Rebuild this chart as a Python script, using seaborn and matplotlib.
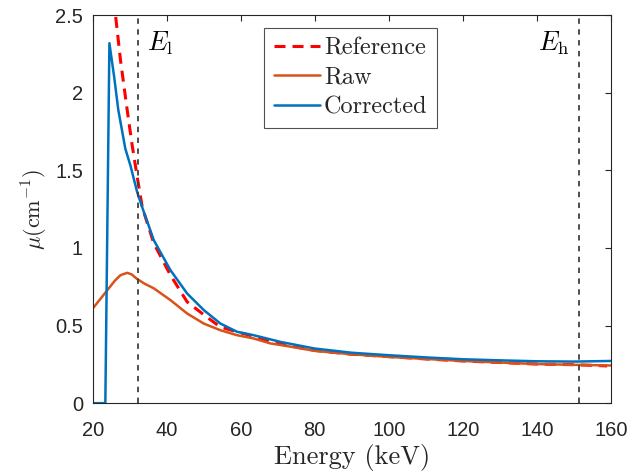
import numpy as np
import pandas as pd
import matplotlib
matplotlib.use("Agg")
import matplotlib.pyplot as plt
import seaborn as sns

# ---- data ----
ref_E = [24.8, 25.4, 26.1, 27.5, 29.3, 30.6, 32.0, 33.4, 36.5, 41.0, 45.5, 50.0, 54.5,
         59, 63.5, 68, 72, 80, 90, 100, 110, 120, 130, 140, 150, 159]
ref_mu = [3.0, 2.75, 2.51, 2.21, 1.89, 1.67, 1.46, 1.26, 1.03, 0.825, 0.653, 0.57, 0.49,
          0.46, 0.43, 0.395, 0.375, 0.34, 0.315, 0.30, 0.285, 0.272, 0.262, 0.252, 0.248, 0.24]

raw_E = [20, 22, 24, 26, 27.5, 29.3, 30.5, 32.0, 34, 36.5, 41, 45.5, 50, 54.5, 59, 63.5,
         68, 72, 80, 90, 100, 110, 120, 130, 140, 150, 160]
raw_mu = [0.61, 0.67, 0.73, 0.79, 0.825, 0.84, 0.83, 0.80, 0.77, 0.74, 0.664, 0.578, 0.513,
          0.47, 0.438, 0.417, 0.385, 0.37, 0.337, 0.315, 0.298, 0.285, 0.272, 0.262, 0.252,
          0.247, 0.243]

cor_E = [20, 23.4, 24.5, 25.8, 26.9, 28.8, 30.2, 32.0, 33.4, 36.5, 41, 45.5, 50, 54.5,
         59, 63.5, 70.7, 80, 90, 100, 110, 120, 130, 140, 150, 160]
cor_mu = [0.0, 0.0, 2.32, 2.10, 1.89, 1.64, 1.53, 1.36, 1.26, 1.05, 0.857, 0.707, 0.60,
          0.513, 0.46, 0.438, 0.395, 0.352, 0.325, 0.309, 0.295, 0.283, 0.276, 0.27,
          0.268, 0.272]

E_low, E_high = 32.2, 151.4
xticks = [20, 40, 60, 80, 100, 120, 140, 160]
yticks = [0, 0.5, 1, 1.5, 2, 2.5]
ytick_labels = ["0", "0.5", "1", "1.5", "2", "2.5"]

# ---- plot ----
sns.set_style("white")
plt.rcParams["mathtext.fontset"] = "cm"
plt.rcParams["font.family"] = ["Liberation Sans", "DejaVu Sans"]

fig = plt.figure(figsize=(6.31, 4.76), dpi=100)
ax = fig.add_axes([0.147, 0.153, 0.821, 0.815])

df_ref = pd.DataFrame({"E": ref_E, "mu": ref_mu})
df_raw = pd.DataFrame({"E": raw_E, "mu": raw_mu})
df_cor = pd.DataFrame({"E": cor_E, "mu": cor_mu})

sns.lineplot(data=df_ref, x="E", y="mu", ax=ax, color="#FF0000", lw=2.2,
             linestyle=(0, (3.6, 2.3)), estimator=None, label="Reference")
sns.lineplot(data=df_raw, x="E", y="mu", ax=ax, color="#D95319", lw=1.8,
             estimator=None, label="Raw")
sns.lineplot(data=df_cor, x="E", y="mu", ax=ax, color="#0072BD", lw=1.8,
             estimator=None, label="Corrected")

for e in (E_low, E_high):
    ax.axvline(e, color="#404040", lw=1.3, linestyle=(0, (3, 3)))

ax.text(34.6, 2.27, r"$E_\mathrm{l}$", fontsize=19, color="black")
ax.text(140.3, 2.27, r"$E_\mathrm{h}$", fontsize=19, color="black")

ax.set_xlim(20, 160)
ax.set_ylim(0, 2.5)
ax.set_xticks(xticks)
ax.set_yticks(yticks)
ax.set_yticklabels(ytick_labels)
ax.tick_params(direction="in", top=True, right=True, length=4, width=0.8,
               labelsize=14.5, colors="#262626")
ax.tick_params(axis="x", pad=13)
ax.tick_params(axis="y", pad=7)
for s in ax.spines.values():
    s.set_color("#262626")
    s.set_linewidth(0.8)

ax.set_xlabel("Energy (keV)", fontsize=19, family="cmr10", labelpad=3)
ax.set_ylabel(r"$\mu(\mathrm{cm}^{-1})$", fontsize=16, labelpad=4)

leg = ax.legend(loc="upper center", bbox_to_anchor=(0.498, 0.968), borderaxespad=0,
                prop={"family": "cmr10", "size": 17.5}, frameon=True, fancybox=False,
                handlelength=1.9, handletextpad=0.15, borderpad=0.4, labelspacing=0.3)
leg.get_frame().set_edgecolor("#262626")
leg.get_frame().set_linewidth(0.8)

fig.savefig("out.png", dpi=100)
